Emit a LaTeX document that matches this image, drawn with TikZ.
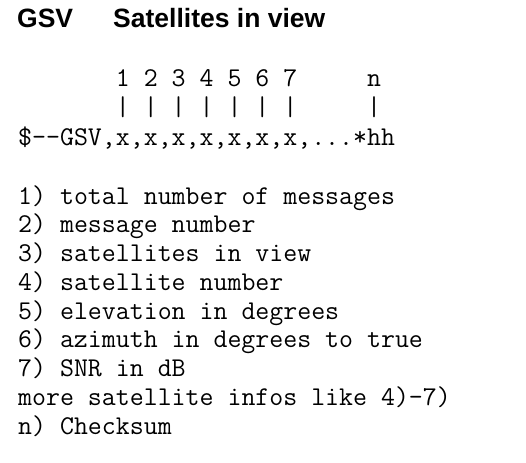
\documentclass[tikz,border=0pt]{standalone}
\usepackage{fontspec}
\setmainfont{Liberation Sans}

\tikzset{
  heading/.style={anchor=base west, inner sep=0pt,
    font=\fontsize{26.5}{26.5}\selectfont\bfseries},
  codeline/.style={anchor=base west, inner sep=0pt,
    font=\ttfamily\fontsize{27.1}{30}\selectfont},
}

\begin{document}
\begin{tikzpicture}[x=1pt,y=-1pt]
  \useasboundingbox (0,0) rectangle (526,462);
  % title
  \node[heading] (gsv) at (17,28) {GSV};
  \node[heading] (title) at (113,28) {Satellites in view};
  % sentence with field numbers
  \node[codeline] (fields) at (18,87) {\hphantom{\$-{}-GSV,}1 2 3 4 5 6 7\hphantom{,...*}n};
  \node[codeline] (bars) at (18,116) {\hphantom{\$-{}-GSV,}| | | | | | |\hphantom{,...*}|};
  \node[codeline] (sentence) at (18,146) {\$-{}-GSV,x,x,x,x,x,x,x,...*hh};
  % meaning of the fields
  \foreach \txt [count=\k] in {1) total number of messages, 2) message number,
      3) satellites in view, 4) satellite number, 5) elevation in degrees,
      6) azimuth in degrees to true, 7) SNR in dB,
      more satellite infos like 4)-7), n) Checksum}
    \node[codeline] (item\k) at (18,{204+28.75*(\k-1)}) {\txt};
\end{tikzpicture}
\end{document}
